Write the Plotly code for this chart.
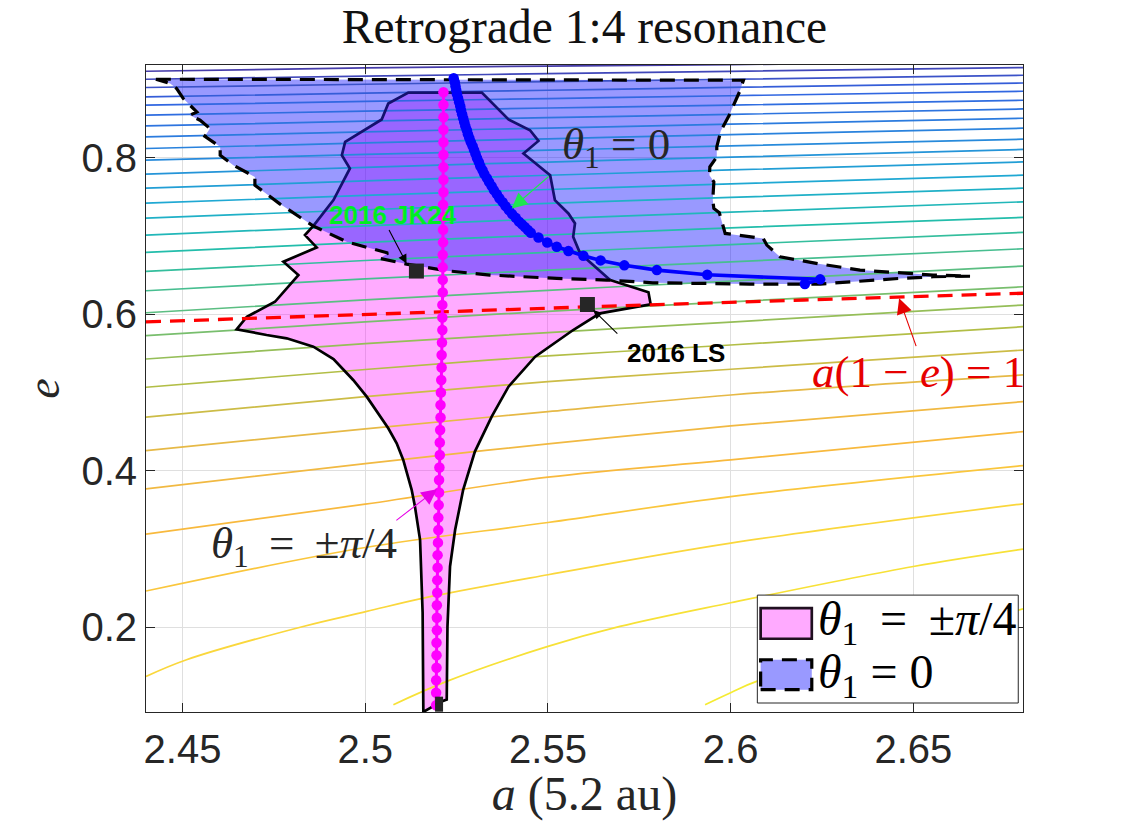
import plotly.graph_objects as go
from plotly.colors import sample_colorscale

# tisserand-like contours, top to bottom, read at contour_a
contour_a = [2.44, 2.50, 2.55, 2.60, 2.68]
contour_e = [
    [0.9108, 0.9150, 0.9174, 0.9194, 0.9223],
    [0.9006, 0.9045, 0.9077, 0.9107, 0.9155],
    [0.8900, 0.8942, 0.8975, 0.9006, 0.9057],
    [0.8780, 0.8828, 0.8865, 0.8901, 0.8958],
    [0.8674, 0.8722, 0.8759, 0.8795, 0.8852],
    [0.8546, 0.8597, 0.8638, 0.8676, 0.8737],
    [0.8409, 0.8469, 0.8514, 0.8557, 0.8626],
    [0.8269, 0.8334, 0.8382, 0.8431, 0.8507],
    [0.8120, 0.8191, 0.8244, 0.8298, 0.8380],
    [0.7971, 0.8044, 0.8099, 0.8154, 0.8239],
    [0.7792, 0.7880, 0.7947, 0.8009, 0.8108],
    [0.7613, 0.7705, 0.7778, 0.7846, 0.7949],
    [0.7421, 0.7521, 0.7596, 0.7668, 0.7779],
    [0.7230, 0.7337, 0.7418, 0.7494, 0.7613],
    [0.7013, 0.7131, 0.7221, 0.7306, 0.7438],
    [0.6792, 0.6919, 0.7014, 0.7106, 0.7239],
    [0.6549, 0.6688, 0.6793, 0.6892, 0.7047],
    [0.6301, 0.6452, 0.6564, 0.6671, 0.6838],
    [0.6020, 0.6185, 0.6307, 0.6425, 0.6617],
    [0.5726, 0.5902, 0.6038, 0.6160, 0.6352],
    [0.5428, 0.5625, 0.5766, 0.5901, 0.6118],
    [0.5067, 0.5294, 0.5467, 0.5607, 0.5841],
    [0.4684, 0.4947, 0.5138, 0.5297, 0.5543],
    [0.4257, 0.4534, 0.4755, 0.4968, 0.5224],
    [0.3768, 0.4091, 0.4342, 0.4572, 0.4883],
    [0.3189, 0.3572, 0.3917, 0.4138, 0.4500],
    [0.2461, 0.3018, 0.3337, 0.3669, 0.4065],
]
low1_a = [2.44, 2.4511, 2.4830, 2.5004, 2.5159, 2.55, 2.60, 2.68]
low1_e = [0.1369, 0.1583, 0.2008, 0.2200, 0.2371, 0.2669, 0.3074, 0.3576]
low2_a = [2.5077, 2.5223, 2.55, 2.5697, 2.60, 2.65, 2.68]
low2_e = [0.1008, 0.1306, 0.1753, 0.2008, 0.2311, 0.2775, 0.2997]
low3_a = [2.593, 2.60, 2.6071, 2.68]
low3_e = [0.1008, 0.1161, 0.1306, 0.2234]

# theta1 = +-pi/4 libration region
pink_a = [2.5118, 2.5319, 2.5392, 2.5451, 2.5474, 2.5433, 2.5506, 2.5519, 2.5556, 2.5574,
          2.5569, 2.5588, 2.5670, 2.5775, 2.5781, 2.5642, 2.5569, 2.5465, 2.5392, 2.5346,
          2.5300, 2.5268, 2.5246, 2.5232, 2.5225, 2.5223, 2.5209, 2.5159, 2.5157, 2.5150,
          2.5136, 2.5127, 2.5104, 2.5086, 2.5063, 2.5004, 2.4967, 2.4913, 2.4858, 2.4785,
          2.4730, 2.4648, 2.4676, 2.4753, 2.4817, 2.4776, 2.4867, 2.4835, 2.4858, 2.4913,
          2.4958, 2.4936, 2.4945, 2.5045, 2.5063, 2.5118]
pink_e = [0.8836, 0.8836, 0.8491, 0.8354, 0.8217, 0.8056, 0.7779, 0.7460, 0.7290, 0.7162,
          0.6991, 0.6779, 0.6438, 0.6281, 0.6127, 0.6012, 0.5799, 0.5458, 0.5074, 0.4691,
          0.4244, 0.3755, 0.3244, 0.2775, 0.2008, 0.1072, 0.1050, 0.0915, 0.2183, 0.3116,
          0.3541, 0.3755, 0.4138, 0.4351, 0.4543, 0.4947, 0.5160, 0.5428, 0.5586, 0.5693,
          0.5735, 0.5808, 0.5969, 0.6160, 0.6502, 0.6672, 0.6855, 0.7013, 0.7131, 0.7460,
          0.7865, 0.8035, 0.8205, 0.8491, 0.8695, 0.8836]

# theta1 = 0 libration region
blue_a = [2.4427, 2.6033, 2.6035, 2.6024, 2.6006, 2.5996, 2.5973, 2.5962, 2.5962, 2.5943,
          2.5942, 2.5954, 2.5951, 2.5954, 2.5969, 2.5985, 2.6089, 2.6099, 2.6135, 2.6245,
          2.6354, 2.6472, 2.6554, 2.6655, 2.6554, 2.6463, 2.6372, 2.6245, 2.6053, 2.5787,
          2.5661, 2.5524, 2.5341, 2.5223, 2.5113, 2.5040, 2.5062, 2.4949, 2.4857, 2.4767,
          2.4698, 2.4698, 2.4639, 2.4603, 2.4603, 2.4561, 2.4575, 2.4548, 2.4520, 2.4539,
          2.4502, 2.4484, 2.4466, 2.4427]
blue_e = [0.9006, 0.8984, 0.8993, 0.8843, 0.8652, 0.8546, 0.8345, 0.8141, 0.8013, 0.7885,
          0.7779, 0.7694, 0.7460, 0.7354, 0.7298, 0.7034, 0.6970, 0.6885, 0.6735, 0.6642,
          0.6565, 0.6523, 0.6502, 0.6489, 0.6480, 0.6459, 0.6429, 0.6387, 0.6387, 0.6403,
          0.6438, 0.6459, 0.6502, 0.6557, 0.6642, 0.6715, 0.6783, 0.6927, 0.7131, 0.7409,
          0.7651, 0.7757, 0.7907, 0.8035, 0.8141, 0.8277, 0.8376, 0.8482, 0.8546, 0.8588,
          0.8759, 0.8887, 0.8951, 0.9006]

# resonance centres
centre_pink_a = [2.5214, 2.5214, 2.5214, 2.5214, 2.5214, 2.5214, 2.5214, 2.5214, 2.5214, 2.5213,
                 2.5213, 2.5213, 2.5213, 2.5212, 2.5212, 2.5212, 2.5212, 2.5211, 2.5211, 2.5211,
                 2.5210, 2.5209, 2.5209, 2.5208, 2.5207, 2.5206, 2.5206, 2.5205, 2.5204, 2.5204,
                 2.5203, 2.5202, 2.5202, 2.5201, 2.5200, 2.5200, 2.5199, 2.5198, 2.5198, 2.5197,
                 2.5197, 2.5196, 2.5196, 2.5196, 2.5195, 2.5195, 2.5195, 2.5194, 2.5194, 2.5194]
centre_pink_e = [0.884, 0.868, 0.852, 0.836, 0.820, 0.804, 0.788, 0.772, 0.756, 0.740,
                 0.724, 0.708, 0.692, 0.676, 0.660, 0.644, 0.628, 0.612, 0.596, 0.580,
                 0.564, 0.548, 0.532, 0.516, 0.500, 0.484, 0.468, 0.452, 0.436, 0.420,
                 0.404, 0.388, 0.372, 0.356, 0.340, 0.324, 0.308, 0.292, 0.276, 0.260,
                 0.244, 0.228, 0.212, 0.196, 0.180, 0.164, 0.148, 0.132, 0.116, 0.100]
centre_blue_a = [2.5242, 2.5245, 2.5247, 2.5249, 2.5251, 2.5254, 2.5257, 2.5260, 2.5262, 2.5265,
                 2.5268, 2.5271, 2.5274, 2.5278, 2.5281, 2.5285, 2.5289, 2.5294, 2.5298, 2.5302,
                 2.5306, 2.5311, 2.5315, 2.5321, 2.5326, 2.5333, 2.5339, 2.5346, 2.5352, 2.5360,
                 2.5367, 2.5376, 2.5384, 2.5393, 2.5402, 2.5412, 2.5421, 2.5429, 2.5437, 2.5445,
                 2.5453, 2.5474, 2.5498, 2.5524, 2.5556, 2.5597, 2.5644, 2.5709, 2.5798, 2.5936,
                 2.6245, 2.6203]
centre_blue_e = [0.9018, 0.8967, 0.8916, 0.8865, 0.8814, 0.8763, 0.8712, 0.8661, 0.8610, 0.8559,
                 0.8507, 0.8456, 0.8405, 0.8354, 0.8303, 0.8252, 0.8201, 0.8150, 0.8099, 0.8048,
                 0.7996, 0.7945, 0.7894, 0.7843, 0.7792, 0.7741, 0.7690, 0.7639, 0.7588, 0.7537,
                 0.7485, 0.7434, 0.7383, 0.7332, 0.7281, 0.7233, 0.7185, 0.7150, 0.7115, 0.7079,
                 0.7042, 0.6983, 0.6919, 0.6863, 0.6808, 0.6748, 0.6689, 0.6626, 0.6565, 0.6505,
                 0.6447, 0.6387]

# q = 1 line
q1_a = [2.44, 2.50, 2.56, 2.62, 2.68]
q1_e = [0.5902, 0.6000, 0.6094, 0.6183, 0.6269]

# objects
ast_a = [2.5140, 2.5608]
ast_e = [0.6553, 0.6125]
start_a = [2.5202, 2.5202]
start_e = [0.1059, 0.0969]

x_ticks = [2.45, 2.5, 2.55, 2.6, 2.65]
x_labels = ["2.45", "2.5", "2.55", "2.6", "2.65"]
y_ticks = [0.2, 0.4, 0.6, 0.8]
y_labels = ["0.2", "0.4", "0.6", "0.8"]

PARULA = [[0, "rgb(70,60,170)"], [0.125, "rgb(50,100,225)"], [0.3, "rgb(40,135,220)"],
          [0.42, "rgb(30,170,210)"], [0.52, "rgb(35,190,170)"], [0.62, "rgb(90,190,130)"],
          [0.72, "rgb(175,190,70)"], [0.8, "rgb(235,185,70)"], [0.87, "rgb(250,185,60)"],
          [0.93, "rgb(250,215,60)"], [1, "rgb(245,235,50)"]]
SERIF = "Liberation Serif"
SANS = "Liberation Sans"
INK = "#262626"
THIN = "\u2009"

rows = [(contour_a, row) for row in contour_e]
rows += [(low1_a, low1_e), (low2_a, low2_e), (low3_a, low3_e)]
shades = sample_colorscale(PARULA, [i / (len(rows) - 1) for i in range(len(rows))])

fig = go.Figure()

# fills go first so the contours stay crisp on top of them
fig.add_trace(go.Scatter(x=pink_a, y=pink_e, mode="lines", fill="toself",
                         fillcolor="rgba(255,0,255,0.33)", line=dict(width=0),
                         name="theta1 = +-pi/4", showlegend=False))
fig.add_trace(go.Scatter(x=blue_a, y=blue_e, mode="lines", fill="toself",
                         fillcolor="rgba(0,0,255,0.4)", line=dict(width=0),
                         name="theta1 = 0", showlegend=False))

for (xs, ys), shade in zip(rows, shades):
    fig.add_trace(go.Scatter(x=xs, y=ys, mode="lines",
                             line=dict(color=shade, width=1.7, shape="spline", smoothing=1),
                             hoverinfo="skip", showlegend=False))

# pink outline, the part inside the blue region looks navy
fig.add_trace(go.Scatter(x=pink_a[12:49], y=pink_e[12:49], mode="lines",
                         line=dict(color="black", width=2.7), showlegend=False))
fig.add_trace(go.Scatter(x=pink_a[48:] + pink_a[:13], y=pink_e[48:] + pink_e[:13], mode="lines",
                         line=dict(color="#14106e", width=2.7), showlegend=False))
fig.add_trace(go.Scatter(x=blue_a, y=blue_e, mode="lines",
                         line=dict(color="black", width=3.2, dash="15px,9px"), showlegend=False))
fig.add_trace(go.Scatter(x=q1_a, y=q1_e, mode="lines",
                         line=dict(color="#ff0000", width=3.3, dash="15px,9px"),
                         showlegend=False))
fig.add_trace(go.Scatter(x=centre_pink_a, y=centre_pink_e, mode="lines+markers",
                         line=dict(color="#ff00ff", width=3), marker=dict(color="#ff00ff", size=10.5),
                         showlegend=False))
fig.add_trace(go.Scatter(x=centre_blue_a, y=centre_blue_e, mode="lines+markers",
                         line=dict(color="#0000ff", width=3.6), marker=dict(color="#0000ff", size=10.5),
                         showlegend=False))
fig.add_trace(go.Scatter(x=ast_a, y=ast_e, mode="markers",
                         marker=dict(color=INK, size=15, symbol="square"), showlegend=False))
fig.add_trace(go.Scatter(x=start_a, y=start_e, mode="markers",
                         marker=dict(color=INK, size=8, symbol="square"), showlegend=False))


def label(x, y, text, size, color=INK, family=SERIF, anchor="center"):
    fig.add_annotation(x=x, y=y, text=text, showarrow=False, xanchor=anchor, yanchor="middle",
                       font=dict(family=family, size=size, color=color))


def pointer(x, y, ax, ay, color, head=2.8):
    fig.add_annotation(x=x, y=y, ax=ax, ay=ay, axref="x", ayref="y", text="", showarrow=True,
                       arrowhead=2, arrowsize=head, arrowwidth=1.1, arrowcolor=color)


THETA_PI4 = f"<i>θ</i><sub>1</sub>{THIN} = {THIN}±<i>π</i>/4"
THETA_0 = "<i>θ</i><sub>1</sub> = 0"

label(2.5076, 0.7268, "<b>2016 JK24</b>", 26, "#00ee22", SANS)
label(2.5850, 0.5505, "<b>2016 LS</b>", 26, "black", SANS)
label(2.5686, 0.8137, THETA_0, 45)
label(2.4832, 0.3039, THETA_PI4, 45)
label(2.6515, 0.5262, "<i>a</i>(1 − <i>e</i>) = 1", 45, "#e60000")
pointer(2.5113, 0.6651, 2.5063, 0.7098, "black", 1.6)
pointer(2.5624, 0.6054, 2.5694, 0.5735, "black", 1.6)
pointer(2.5401, 0.7354, 2.5506, 0.7779, "#1ee650")
pointer(2.5196, 0.3764, 2.5081, 0.3350, "#e600e6")
pointer(2.6461, 0.6204, 2.6509, 0.5573, "#e60000")

# hand-built legend box, the built-in one has no big fill swatches
fig.add_shape(type="rect", x0=2.6073, x1=2.6787, y0=0.1029, y1=0.2409, layer="above",
              fillcolor="white", line=dict(color=INK, width=1))
fig.add_shape(type="rect", x0=2.6082, x1=2.6222, y0=0.1851, y1=0.2243, layer="above",
              fillcolor="rgb(255,170,255)", line=dict(color="#201020", width=2.7))
fig.add_shape(type="rect", x0=2.6082, x1=2.6222, y0=0.1199, y1=0.1582, layer="above",
              fillcolor="rgb(153,153,255)", line=dict(color="black", width=3.2, dash="15px,9px"))
label(2.6234, 0.2068, THETA_PI4, 48, "black", anchor="left")
label(2.6234, 0.1391, THETA_0, 48, "black", anchor="left")

axis_style = dict(automargin=False, showgrid=True, gridcolor="#dfdfdf", gridwidth=1, zeroline=False,
                  showline=True, linecolor=INK, linewidth=1, mirror="ticks", ticks="inside",
                  ticklen=9, tickwidth=1, tickcolor=INK,
                  tickfont=dict(family=SANS, size=40, color=INK))

fig.update_layout(
    width=1116,
    height=813,
    paper_bgcolor="white",
    plot_bgcolor="white",
    showlegend=False,
    margin=dict(l=138, r=101, t=57, b=109),
    title=dict(text="Retrograde 1:4 resonance", x=0.5, xref="paper", xanchor="center",
               y=0.977, yanchor="middle", font=dict(family=SERIF, size=47.5, color="#111111")),
)
fig.update_xaxes(range=[2.44, 2.68], tickvals=x_ticks, ticktext=x_labels, ticklabelstandoff=2,
                 title=dict(text="<i>a</i> (5.2 au)", standoff=6,
                            font=dict(family=SERIF, size=48, color=INK)), **axis_style)
fig.update_yaxes(range=[0.0914, 0.9188], tickvals=y_ticks, ticktext=y_labels,
                 title=dict(text="<i>e</i>", standoff=7,
                            font=dict(family=SERIF, size=46, color=INK)), **axis_style)

fig.write_html("out.html")
